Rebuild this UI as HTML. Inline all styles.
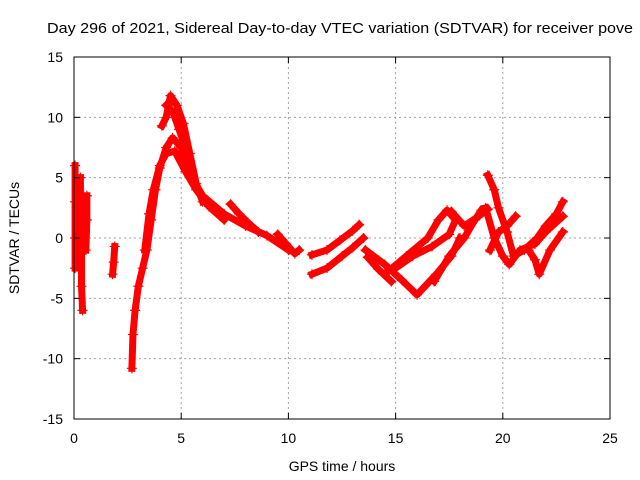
<!DOCTYPE html>
<html><head><meta charset="utf-8"><style>
html,body{margin:0;padding:0;background:#fff;}
svg{display:block;font-family:"Liberation Sans",sans-serif;}
</style></head><body>
<svg id="chart" width="640" height="480" viewBox="0 0 640 480">
<rect width="640" height="480" fill="#fff"/>
<text x="47" y="33" font-size="15" textLength="586" lengthAdjust="spacingAndGlyphs" fill="#000">Day 296 of 2021, Sidereal Day-to-day VTEC variation (SDTVAR) for receiver pove</text>
<g id="grid"></g>
<g id="series"></g>
<rect x="74" y="57" width="536" height="362" fill="none" stroke="#000" stroke-width="1"/>
<g id="ticks"></g>
<text x="342" y="471" font-size="14" text-anchor="middle">GPS time / hours</text>
<text transform="translate(19,238) rotate(-90)" font-size="14" text-anchor="middle">SDTVAR / TECUs</text>
</svg>
<script>
const xTicks=[0,5,10,15,20,25];
const yTicks=[-15,-10,-5,0,5,10,15];
const trackA=[[0.05,6],[0.05,3],[0.05,0],[0.05,-2.5]];
const trackB=[[0.3,5],[0.3,2],[0.35,-1],[0.35,-4],[0.4,-6]];
const trackC=[[0.6,3.5],[0.6,1.5],[0.55,-1]];
const trackD=[[1.9,-0.7],[1.85,-2],[1.8,-3]];
const trackE=[[2.7,-10.8],[2.75,-8],[2.85,-6],[3.0,-4],[3.2,-2.5],[3.4,-1],[3.6,1.5],[3.8,4],[4.0,5.8],[4.3,7.5],[4.6,8.3],[5.0,7.5],[5.5,5],[6.0,3.5],[7.0,2],[8.0,1],[9.0,0.2],[10.0,-1]];
const trackF=[[3.3,-1],[3.5,2],[3.7,4],[4.0,6],[4.3,7],[4.7,7.2],[5.2,5.5],[5.7,4],[6.3,2.6],[7.0,1.5]];
const trackG=[[4.1,9.3],[4.3,10],[4.5,11.8],[4.8,11],[5.1,9.5],[5.4,7],[5.7,4.5],[6.0,3]];
const trackH=[[4.3,11],[4.6,10.5],[4.9,9],[5.2,7.5]];
const trackI=[[7.3,2.8],[7.7,2],[8.1,1.3],[8.6,0.5]];
const trackJ=[[9.5,0.3],[9.9,-0.5],[10.3,-1.3],[10.5,-1]];
const trackK=[[11.1,-1.4],[11.8,-1],[12.4,-0.2],[13.0,0.6],[13.3,1.1]];
const trackL=[[11.1,-3],[11.8,-2.5],[12.5,-1.5],[13.0,-0.8],[13.5,0]];
const trackM=[[13.7,-1.6],[14.2,-2.6],[14.8,-3.6]];
const trackN=[[13.6,-1],[14.5,-2.2],[15.3,-3.5],[16.0,-4.7],[16.9,-3],[17.6,-1.5],[18.0,0]];
const trackO=[[14.5,-3],[15.5,-1.5],[16.5,0],[17.0,1.5],[17.4,2.3],[17.8,1.5],[17.5,0.3],[16.7,-0.7],[15.8,-1.5],[15.0,-2.5]];
const trackP=[[16.8,-3.6],[17.5,-1.5],[18.2,0],[18.7,1.5],[19.0,2.3]];
const trackQ=[[17.6,2.2],[18.2,1],[18.8,1.7],[19.3,2.4]];
const trackR=[[19.3,5.2],[19.6,4],[19.8,2.5],[20.2,0.5],[20.5,-1.5],[21.0,-1],[21.6,0],[22.0,1],[22.5,2],[22.8,3]];
const trackS=[[19.2,2.5],[19.6,0],[20.0,-1.5],[20.3,-2.2],[20.8,-1],[21.5,-0.5],[22.0,0.5],[22.8,1.8]];
const trackT=[[21.2,-1],[21.5,-1.8],[21.7,-3],[22.2,-1],[22.8,0.5]];
const trackU=[[19.4,-1],[19.8,0.5],[20.2,1],[20.6,1.8]];
const tracks=[trackA,trackB,trackC,trackD,trackE,trackF,trackG,trackH,trackI,trackJ,trackK,trackL,trackM,trackN,trackO,trackP,trackQ,trackR,trackS,trackT,trackU];

const NS='http://www.w3.org/2000/svg';
const X0=74,X1=610,Y0=419,Y1=57;
function sx(t){return X0+(t-0)/(25-0)*(X1-X0);}
function sy(v){return Y0-(v+15)/30*(Y0-Y1);}
const grid=document.getElementById('grid'),ticks=document.getElementById('ticks'),ser=document.getElementById('series');
function mk(tag,attrs,parent){const e=document.createElementNS(NS,tag);for(const k in attrs)e.setAttribute(k,attrs[k]);parent.appendChild(e);return e;}
xTicks.forEach(t=>{
  const x=sx(t);
  if(t>0&&t<25){const g=mk('line',{x1:x,y1:Y1,x2:x,y2:Y0,stroke:'#a0a0a0','stroke-dasharray':'2,3'},grid);
  
  }
  const tk=mk('line',{x1:x,y1:Y0,x2:x,y2:Y0-6,stroke:'#000'},ticks);
  
  
  const tk2=mk('line',{x1:x,y1:Y1,x2:x,y2:Y1+6,stroke:'#000'},ticks);
  
  
  const lb=mk('text',{x:x,y:443,'font-size':14,'text-anchor':'middle'},ticks);lb.textContent=t;
  
  
});
yTicks.forEach(v=>{
  const y=sy(v);
  if(v>-15&&v<15){const g=mk('line',{x1:X0,y1:y,x2:X1,y2:y,stroke:'#a0a0a0','stroke-dasharray':'2,3'},grid);
  
  }
  const tk=mk('line',{x1:X0,y1:y,x2:X0+6,y2:y,stroke:'#000'},ticks);
  
  
  const tk2=mk('line',{x1:X1,y1:y,x2:X1-6,y2:y,stroke:'#000'},ticks);
  
  
  const lb=mk('text',{x:63,y:y+5,'font-size':14,'text-anchor':'end'},ticks);lb.textContent=v;
  
  
});
tracks.forEach(tr=>{
  const pl=mk('polyline',{points:tr.map(p=>sx(p[0])+','+sy(p[1])).join(' '),fill:'none',stroke:'#f00','stroke-width':7,'stroke-linejoin':'round','stroke-linecap':'square'},ser);
  
  
  tr.forEach(p=>{
    const x=sx(p[0]),y=sy(p[1]);
    const m=mk('path',{d:`M${x-5},${y}H${x+5}M${x},${y-5}V${y+5}`,stroke:'#f00','stroke-width':1.2},ser);
    
    
  });
});
</script>
</body></html>
